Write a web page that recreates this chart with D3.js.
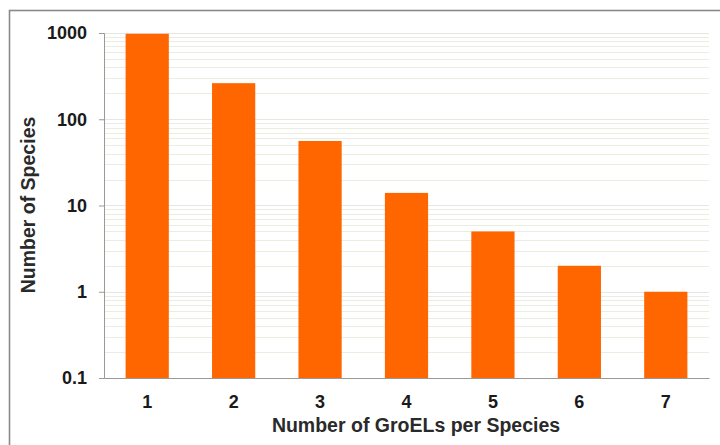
<!DOCTYPE html>
<html><head><meta charset="utf-8">
<script src="https://cdn.jsdelivr.net/npm/d3@7"></script>
<style>body{margin:0;background:#fff;}svg{display:block;}</style>
</head><body>
<script>
const categories = ["1","2","3","4","5","6","7"];
const values = [980, 262, 56, 14, 5, 2, 1];
const yTicks = [0.1, 1, 10, 100, 1000];
const yTickLabels = ["0.1","1","10","100","1000"];
const xTitle = "Number of GroELs per Species";
const yTitle = "Number of Species";

const W = 720, H = 445;
const m = {left:104, right:11, top:33, bottom:67};
const FONT = "Liberation Sans, Arial, sans-serif";
const svg = d3.select("body").append("svg").attr("width",W).attr("height",H);
svg.append("rect").attr("x",0).attr("y",0).attr("width",W).attr("height",H).attr("fill","#fff");
// outer border (cropped at right/bottom)
svg.append("rect").attr("x",9.5).attr("y",10.5).attr("width",W+20).attr("height",H+20)
  .attr("fill","none").attr("stroke","#8a8a8a").attr("stroke-width",1.6);

const x = d3.scaleBand().domain(categories).range([m.left, W-m.right]).paddingInner(0.5).paddingOuter(0.25);
const y = d3.scaleLog().domain([0.1,1000]).range([H-m.bottom, m.top]);

// minor grid
const minor = [];
for (let d=0.1; d<1000; d*=10) for (let k=2;k<=9;k++) minor.push(+(d*k).toPrecision(3));
svg.append("g").selectAll("line").data(minor).join("line")
  .attr("x1",m.left).attr("x2",W-m.right)
  .attr("y1",d=>Math.round(y(d))+0.5).attr("y2",d=>Math.round(y(d))+0.5)
  .attr("stroke","#e9eee0").attr("stroke-width",1);
svg.append("g").selectAll("line").data(yTicks.slice(1)).join("line")
  .attr("x1",m.left).attr("x2",W-m.right)
  .attr("y1",d=>Math.round(y(d))+0.5).attr("y2",d=>Math.round(y(d))+0.5)
  .attr("stroke","#e6e6e6").attr("stroke-width",1);

// bars
svg.append("g").selectAll("rect").data(values).join("rect")
  .attr("x",(d,i)=>x(categories[i])).attr("width",x.bandwidth())
  .attr("y",d=>y(d)).attr("height",d=>y(0.1)-y(d))
  .attr("fill","#ff6600");

// y axis
const yAxis = d3.axisLeft(y).tickValues(yTicks).tickFormat((d,i)=>yTickLabels[i]).tickSize(5).tickPadding(12);
const gy = svg.append("g").attr("transform",`translate(${m.left},0)`).call(yAxis);
gy.select(".domain").attr("stroke","#999");
gy.selectAll(".tick line").attr("stroke","#999");
gy.selectAll("text").attr("font-family",FONT).attr("font-weight","bold")
  .attr("font-size",18).attr("fill","#1a1a1a");

// x axis
const xAxis = d3.axisBottom(x).tickSize(0).tickPadding(17);
const gx = svg.append("g").attr("transform",`translate(0,${H-m.bottom})`).call(xAxis);
gx.select(".domain").attr("stroke","#999").attr("stroke-width",1.2);
gx.selectAll("text").attr("font-family",FONT).attr("font-weight","bold")
  .attr("font-size",18).attr("fill","#1a1a1a");

// titles
svg.append("text").attr("x",416).attr("y",432).attr("text-anchor","middle")
  .attr("font-family",FONT).attr("font-weight","bold").attr("font-size",19.5)
  .attr("fill","#2a2a2a").text(xTitle);
svg.append("text").attr("transform",`translate(35,205) rotate(-90)`).attr("text-anchor","middle")
  .attr("font-family",FONT).attr("font-weight","bold").attr("font-size",19.5)
  .attr("fill","#2a2a2a").text(yTitle);
</script>
</body></html>
